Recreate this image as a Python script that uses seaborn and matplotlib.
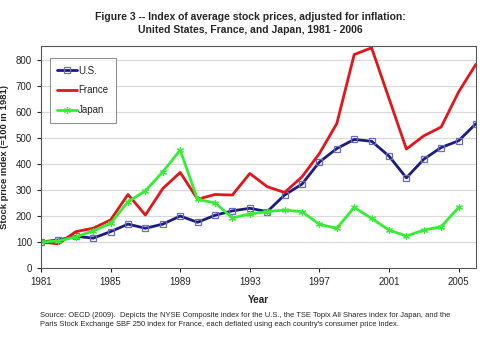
import numpy as np
import pandas as pd
import matplotlib.pyplot as plt
import seaborn as sns

# data (index, 1981 = 100)
years = list(range(1981, 2007))
us = [100, 108, 122, 115, 140, 169, 153, 169, 200, 176, 203, 220, 230,
      217, 281, 323, 408, 460, 495, 488, 431, 347, 419, 464, 490, 556]
france = [100, 93, 140, 153, 185, 283, 204, 306, 368, 265, 283, 281, 364,
          313, 291, 351, 441, 556, 822, 848, 653, 458, 509, 543, 678, 785]
japan = [100, 104, 120, 143, 172, 255, 297, 370, 454, 264, 251, 193, 208,
         217, 223, 217, 168, 153, 233, 191, 146, 123, 146, 159, 233]
xticks = [1981, 1985, 1989, 1993, 1997, 2001, 2005]
yticks = list(range(0, 900, 100))

sns.set_style("white")
plt.rcParams['font.family'] = ['Liberation Sans', 'DejaVu Sans']

fig = plt.figure(figsize=(5, 3.51), dpi=100)
ax = fig.add_axes([0.082, 0.2365, 0.870, 0.6325])

for y in yticks[1:]:
    ax.axhline(y, color='#d9d9d9', lw=0.8, zorder=0)

sns.lineplot(x=years, y=us, ax=ax, color='#1c1c7c', lw=2, marker='s', ms=5,
             markerfacecolor='none', markeredgecolor='#6a6ac0', markeredgewidth=0.9,
             label='U.S.')
sns.lineplot(x=years, y=france, ax=ax, color='#e4141b', lw=2, label='France')
sns.lineplot(x=years[:len(japan)], y=japan, ax=ax, color='#33ee33', lw=2,
             marker=(6, 2, 0), ms=5, markeredgecolor='#33ee33', markeredgewidth=0.8,
             label='Japan')

ax.set_xlim(1981, 2006)
ax.set_ylim(0, 855)
ax.set_xticks(xticks)
ax.set_yticks(yticks)
ax.tick_params(labelsize=7, length=3, direction='out', bottom=True, left=True, width=0.8)
for s in ax.spines.values():
    s.set_color('#555555')
    s.set_linewidth(0.8)

ax.set_xlabel('Year', fontsize=7.2, fontweight='bold', labelpad=6)
ax.set_ylabel('Stock price index (=100 in 1981)', fontsize=6.8, fontweight='bold', labelpad=5)

leg = ax.legend(loc='upper left', bbox_to_anchor=(0.02, 0.946), fontsize=7, frameon=True,
                fancybox=False, edgecolor='#777777', handlelength=2.0, handletextpad=0.1,
                labelspacing=1.0, borderpad=0.8, borderaxespad=0)
leg.get_frame().set_linewidth(0.8)

fig.text(0.5, 0.965, 'Figure 3 -- Index of average stock prices, adjusted for inflation:\n'
         'United States, France, and Japan, 1981 - 2006',
         ha='center', va='top', fontsize=7.5, fontweight='bold', linespacing=1.3)
fig.text(0.08, 0.11, "Source: OECD (2009).  Depicts the NYSE Composite index for the U.S., the TSE Topix All Shares index for Japan, and the\n"
         "Paris Stock Exchange SBF 250 index for France, each deflated using each country's consumer price index.",
         ha='left', va='top', fontsize=5.4, linespacing=1.3)

fig.savefig('out.png', dpi=100)
